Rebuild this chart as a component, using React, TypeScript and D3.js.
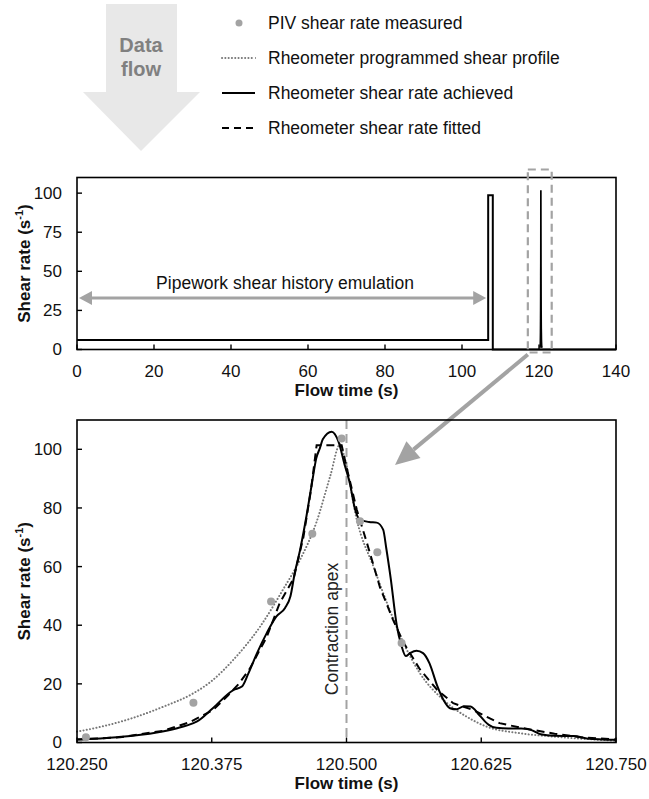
import * as d3 from "d3";

// legend entries
const legendLabels = [
  "PIV shear rate measured",
  "Rheometer programmed shear profile",
  "Rheometer shear rate achieved",
  "Rheometer shear rate fitted",
];

// top panel: full flow history (s, 1/s)
const historyTime = [0, 106.8, 106.8, 108, 108, 140];
const historyRate = [6, 6, 98.7, 98.7, 0, 0];
const emulationSpan = [0, 106.8];
const emulationLevel = 33;
const zoomWindow = [117.1, 123.3];

const topXTicks = [0, 20, 40, 60, 80, 100, 120, 140];
const topYTicks = [0, 25, 50, 75, 100];

// bottom panel: contraction pass
const pivTime = [120.2583, 120.358, 120.43, 120.4683, 120.4955, 120.5125, 120.5286, 120.5511];
const pivRate = [1.8, 13.6, 48.1, 71.2, 103.7, 75.5, 64.9, 33.9];

const programmedTime = [120.25, 120.275, 120.302, 120.33, 120.358, 120.375, 120.395, 120.42, 120.441, 120.457, 120.472, 120.485, 120.494, 120.4986, 120.5095, 120.525, 120.54, 120.553, 120.568, 120.59, 120.6115, 120.63, 120.66, 120.693, 120.75];
const programmedRate = [3.7, 5.6, 8.4, 12.2, 16.8, 21, 28.2, 39.6, 52.1, 62.4, 75, 91, 101.7, 96.6, 76, 60, 45.3, 33.9, 23.7, 14.5, 8.8, 5.4, 3.2, 2, 0.6];

const achievedTime = [120.25, 120.287, 120.324, 120.342, 120.358, 120.361, 120.376, 120.395, 120.403, 120.409, 120.417, 120.426, 120.435, 120.443, 120.448, 120.452, 120.457, 120.463, 120.468, 120.472, 120.4754, 120.478, 120.4863, 120.4924, 120.4986, 120.503, 120.508, 120.5125, 120.521, 120.528, 120.534, 120.537, 120.541, 120.5466, 120.551, 120.555, 120.559, 120.565, 120.571, 120.577, 120.584, 120.59, 120.596, 120.602, 120.609, 120.615, 120.624, 120.632, 120.639, 120.65, 120.662, 120.671, 120.68, 120.693, 120.711, 120.723, 120.75];
const achievedRate = [1.0, 1.8, 3.4, 4.8, 6.6, 7.1, 11.7, 17.9, 19.1, 23.6, 30.5, 37.3, 43.0, 45.9, 49.9, 57.8, 65.8, 77.5, 88.6, 97, 100.5, 103.4, 106, 102.8, 94.3, 88.6, 79.5, 76.0, 75.2, 75.0, 72.6, 66, 56, 40, 33, 29.5, 30.5, 31.3, 30.5, 27, 19.5, 14.5, 11.7, 11.3, 12.4, 12.3, 9, 6, 5, 4.8, 4.8, 4.3, 2.8, 2.3, 2.2, 1.4, 0.9];

const fittedTime = [120.25, 120.29, 120.33, 120.355, 120.36, 120.376, 120.39, 120.4, 120.41, 120.426, 120.438, 120.451, 120.46, 120.467, 120.4723, 120.4955, 120.5, 120.5095, 120.519, 120.531, 120.543, 120.553, 120.568, 120.584, 120.599, 120.618, 120.642, 120.662, 120.693, 120.717, 120.75];
const fittedRate = [1.0, 1.8, 4.0, 7.0, 8.0, 11, 16, 20, 25, 36, 47.5, 56, 70, 86, 101.4, 101.4, 94, 79.5, 68, 53, 42, 34, 25, 18, 13.4, 11, 6.6, 5, 3, 1.8, 1.0];

const apexTime = 120.5;
const bottomXTicks = [120.25, 120.375, 120.5, 120.625, 120.75];
const bottomYTicks = [0, 20, 40, 60, 80, 100];

const FONT = "'Liberation Sans', Arial, sans-serif";
const GREY = "#a3a3a3";

const zip = (t: number[], v: number[]) => t.map((d, i) => [d, v[i]] as [number, number]);

function Frame({ x, y, xTicks, yTicks, fmt }: any) {
  const [x0, x1] = x.range();
  const [y0, y1] = y.range();
  return (
    <g>
      <rect x={x0} y={y1} width={x1 - x0} height={y0 - y1} fill="none" stroke="#000" strokeWidth={1.6} />
      {xTicks.map((t: number) => (
        <g key={"x" + t}>
          <line x1={x(t)} x2={x(t)} y1={y0} y2={y0 - 5} stroke="#000" strokeWidth={1.4} />
          <text x={x(t)} y={y0 + 27} textAnchor="middle" fontSize={17} fill="#111">{fmt(t)}</text>
        </g>
      ))}
      {yTicks.map((t: number) => (
        <g key={"y" + t}>
          <line x1={x0} x2={x0 + 5} y1={y(t)} y2={y(t)} stroke="#000" strokeWidth={1.4} />
          <text x={x0 - 15} y={y(t)} dy="0.35em" textAnchor="end" fontSize={17} fill="#111">{t}</text>
        </g>
      ))}
      <text x={(x0 + x1) / 2} y={y0 + 46} textAnchor="middle" fontSize={17} fontWeight="bold" fill="#111">Flow time (s)</text>
      <text transform={`translate(30,${(y0 + y1) / 2}) rotate(-90)`} textAnchor="middle" fontSize={17} fontWeight="bold" fill="#111">
        Shear rate (s<tspan dy={-7} fontSize={11}>-1</tspan><tspan dy={7}>)</tspan>
      </text>
    </g>
  );
}

export default function App() {
  // top panel scales
  const xTop = d3.scaleLinear().domain([0, 140]).range([77, 616]);
  const yTop = d3.scaleLinear().domain([0, 110]).range([349.5, 177.5]);
  // bottom panel scales
  const xBot = d3.scaleLinear().domain([120.25, 120.75]).range([77, 616]);
  const yBot = d3.scaleLinear().domain([0, 110]).range([742.5, 420]);

  const lineTop = d3.line<[number, number]>().x((d) => xTop(d[0])).y((d) => yTop(d[1]));
  const smoothBot = d3.line<[number, number]>().x((d) => xBot(d[0])).y((d) => yBot(d[1])).curve(d3.curveMonotoneX);
  const linearBot = d3.line<[number, number]>().x((d) => xBot(d[0])).y((d) => yBot(d[1]));

  const history = zip(historyTime, historyRate);
  const spike = zip(fittedTime, fittedRate);

  const boxL = xTop(zoomWindow[0]);
  const boxR = xTop(zoomWindow[1]);
  const boxTop = yTop(110) - 8;
  const boxBot = yTop(0) + 3;

  // big pointer from highlight box to the zoomed panel
  const pStart: [number, number] = [boxL, boxBot + 2];
  const pEnd: [number, number] = [395, 465];
  const ang = Math.atan2(pEnd[1] - pStart[1], pEnd[0] - pStart[0]);
  const hl = 24, hw = 11;
  const bx = pEnd[0] - hl * Math.cos(ang), by = pEnd[1] - hl * Math.sin(ang);
  const head = [
    pEnd,
    [bx + hw * Math.sin(ang), by - hw * Math.cos(ang)],
    [bx - hw * Math.sin(ang), by + hw * Math.cos(ang)],
  ].map((p) => p.join(",")).join(" ");

  const emY = yTop(emulationLevel);
  const emL = xTop(emulationSpan[0]);
  const emR = xTop(emulationSpan[1]);

  const legendY = [23, 58, 93, 128];

  return (
    <svg width={649} height={799} style={{ position: "absolute", left: 0, top: 0, background: "#fff" }} fontFamily={FONT}>
      {/* data flow arrow */}
      <polygon points="106,4 177,4 177,92 200,92 141,151 83,92 106,92" fill="#e8e8e8" />
      <text x={141} y={52} textAnchor="middle" fontSize={20} fontWeight="bold" fill="#808080">Data</text>
      <text x={141} y={76} textAnchor="middle" fontSize={20} fontWeight="bold" fill="#808080">flow</text>

      {/* legend */}
      <circle cx={239} cy={legendY[0]} r={3.5} fill={GREY} />
      <line x1={222} x2={255} y1={legendY[1]} y2={legendY[1]} stroke="#777" strokeWidth={2} strokeDasharray="0.1 3.2" strokeLinecap="round" />
      <line x1={222} x2={255} y1={legendY[2]} y2={legendY[2]} stroke="#000" strokeWidth={2.2} />
      <line x1={222} x2={255} y1={legendY[3]} y2={legendY[3]} stroke="#000" strokeWidth={2.2} strokeDasharray="7 5" />
      {legendLabels.map((l, i) => (
        <text key={l} x={268} y={legendY[i]} dy="0.35em" fontSize={17.5} fill="#111">{l}</text>
      ))}

      {/* top panel */}
      <path d={lineTop(history) || ""} fill="none" stroke="#000" strokeWidth={2} />
      <path d={lineTop(spike) || ""} fill="none" stroke="#000" strokeWidth={1.6} />
      <Frame x={xTop} y={yTop} xTicks={topXTicks} yTicks={topYTicks} fmt={(t: number) => String(t)} />
      <line x1={emL + 12} x2={emR - 12} y1={emY} y2={emY} stroke={GREY} strokeWidth={3} />
      <polygon points={`${emL + 2},${emY} ${emL + 15},${emY - 7} ${emL + 15},${emY + 7}`} fill={GREY} />
      <polygon points={`${emR - 2},${emY} ${emR - 15},${emY - 7} ${emR - 15},${emY + 7}`} fill={GREY} />
      <text x={285} y={283} dy="0.35em" textAnchor="middle" fontSize={17.5} fill="#111">Pipework shear history emulation</text>
      <rect x={boxL} y={boxTop} width={boxR - boxL} height={boxBot - boxTop} fill="none" stroke={GREY} strokeWidth={2.2} strokeDasharray="8 5" />
      <line x1={pStart[0]} y1={pStart[1]} x2={bx} y2={by} stroke={GREY} strokeWidth={4} />
      <polygon points={head} fill={GREY} />

      {/* bottom panel */}
      <line x1={xBot(apexTime)} x2={xBot(apexTime)} y1={yBot(110)} y2={yBot(0)} stroke={GREY} strokeWidth={2} strokeDasharray="9 5" />
      <text transform={`translate(${xBot(apexTime) - 15},629) rotate(-90)`} textAnchor="middle" dy="0.35em" fontSize={17.5} fill="#222">Contraction apex</text>
      <path d={smoothBot(zip(programmedTime, programmedRate)) || ""} fill="none" stroke="#777" strokeWidth={2} strokeDasharray="0.1 3.2" strokeLinecap="round" />
      <path d={linearBot(zip(fittedTime, fittedRate)) || ""} fill="none" stroke="#000" strokeWidth={2} strokeDasharray="8 5" />
      <path d={smoothBot(zip(achievedTime, achievedRate)) || ""} fill="none" stroke="#000" strokeWidth={2} />
      {pivTime.map((t, i) => (
        <circle key={t} cx={xBot(t)} cy={yBot(pivRate[i])} r={4} fill={GREY} />
      ))}
      <Frame x={xBot} y={yBot} xTicks={bottomXTicks} yTicks={bottomYTicks} fmt={(t: number) => t.toFixed(3)} />
    </svg>
  );
}
